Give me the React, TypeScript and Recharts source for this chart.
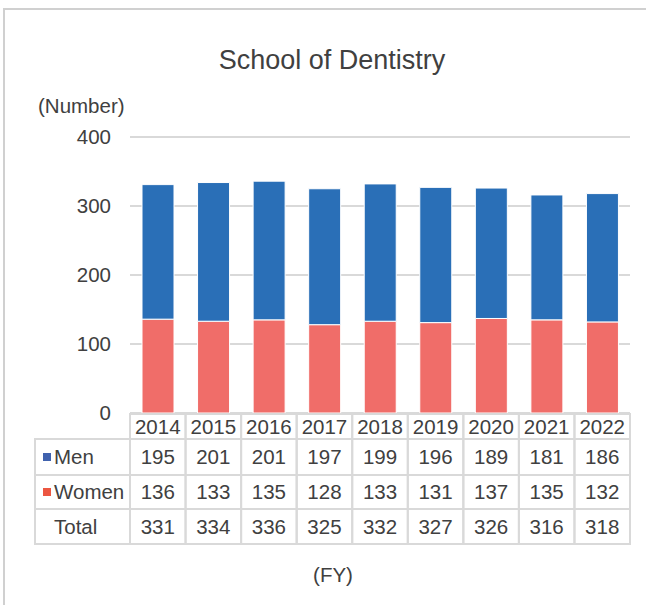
import React from 'react';
import { BarChart, Bar, XAxis, YAxis, CartesianGrid } from 'recharts';

const years = ['2014', '2015', '2016', '2017', '2018', '2019', '2020', '2021', '2022'];
const men = [195, 201, 201, 197, 199, 196, 189, 181, 186];
const women = [136, 133, 135, 128, 133, 131, 137, 135, 132];
const totals = [331, 334, 336, 325, 332, 327, 326, 316, 318];
const yTicks = [0, 100, 200, 300, 400];
const rowLabels = ['Men', 'Women', 'Total'];

const data = years.map((y, i) => ({ year: y, men: men[i], women: women[i] }));

const W = 646;
const H = 605;
const PLOT_L = 130;
const PLOT_R = 630;
const PLOT_T = 137;
const PLOT_B = 413;
const Y_AXIS_W = 60;
const CELL_W = (PLOT_R - PLOT_L) / years.length;
const ROW_TOPS = [414, 439, 475, 509, 544];
const TABLE_L = 35;
const FONT = '"Liberation Sans", Arial, sans-serif';
const TEXT = '#404040';
const LINE = '#d9d9d9';
const MEN_COLOR = '#2A6FB7';
const WOMEN_COLOR = '#F06D69';
const MEN_KEY = '#4062AE';
const WOMEN_KEY = '#EC5641';

const TableTick = (props: any) => {
  const { x, payload } = props;
  let i = props.index;
  if (i === undefined || i === null) i = years.indexOf(String(payload.value));
  const left = x - CELL_W / 2;
  const vals = [years[i], men[i], women[i], totals[i]];
  return (
    <g>
      {vals.map((v, r) => (
        <g key={r}>
          <rect
            x={left}
            y={ROW_TOPS[r]}
            width={CELL_W}
            height={ROW_TOPS[r + 1] - ROW_TOPS[r]}
            fill="none"
            stroke={LINE}
            strokeWidth={2}
          />
          <text
            x={x}
            y={(ROW_TOPS[r] + ROW_TOPS[r + 1]) / 2}
            dy="0.36em"
            textAnchor="middle"
            fontSize={20.5}
            fontFamily={FONT}
            fill={TEXT}
          >
            {v}
          </text>
        </g>
      ))}
    </g>
  );
};

const YTick = (props: any) => {
  const { y, payload } = props;
  return (
    <text x={111} y={y} dy="0.36em" textAnchor="end" fontSize={20.5} fontFamily={FONT} fill={TEXT}>
      {payload.value}
    </text>
  );
};

export default function App() {
  return (
    <div style={{ position: 'absolute', left: 0, top: 0, width: W, height: H, background: '#fff' }}>
      <BarChart
        width={W}
        height={H}
        data={data}
        margin={{ top: PLOT_T, right: W - PLOT_R, bottom: 0, left: PLOT_L - Y_AXIS_W }}
        barSize={32}
      >
        <CartesianGrid vertical={false} stroke={LINE} strokeWidth={2} />
        <XAxis
          dataKey="year"
          axisLine={false}
          tickLine={false}
          tick={TableTick}
          interval={0}
          height={H - PLOT_B}
        />
        <YAxis
          width={Y_AXIS_W}
          domain={[0, 400]}
          ticks={yTicks}
          axisLine={false}
          tickLine={false}
          tick={YTick}
        />
        <Bar dataKey="women" stackId="a" fill={WOMEN_COLOR} stroke="#ffffff" strokeWidth={1} isAnimationActive={false} />
        <Bar dataKey="men" stackId="a" fill={MEN_COLOR} stroke="#ffffff" strokeWidth={1} isAnimationActive={false} />
      </BarChart>
      <svg
        width={W}
        height={H}
        style={{ position: 'absolute', left: 0, top: 0, pointerEvents: 'none' }}
      >
        <rect x={4} y={9} width={800} height={800} fill="none" stroke="#d0d0d0" strokeWidth={2} />
        <text x={332} y={69} textAnchor="middle" fontSize={27} fontFamily={FONT} fill={TEXT}>
          School of Dentistry
        </text>
        <text x={38} y={113} fontSize={20.5} fontFamily={FONT} fill={TEXT}>
          (Number)
        </text>
        {rowLabels.map((lab, r) => {
          const top = ROW_TOPS[r + 1];
          const bot = ROW_TOPS[r + 2];
          const cy = (top + bot) / 2;
          return (
            <g key={lab}>
              <rect x={TABLE_L} y={top} width={PLOT_L - TABLE_L} height={bot - top} fill="none" stroke={LINE} strokeWidth={2} />
              {r < 2 && (
                <rect x={43} y={cy - 4} width={8} height={8} fill={r === 0 ? MEN_KEY : WOMEN_KEY} />
              )}
              <text x={54} y={cy} dy="0.36em" fontSize={20.5} fontFamily={FONT} fill={TEXT}>
                {lab}
              </text>
            </g>
          );
        })}
        <text x={333} y={582} textAnchor="middle" fontSize={20.5} fontFamily={FONT} fill={TEXT}>
          (FY)
        </text>
      </svg>
    </div>
  );
}
